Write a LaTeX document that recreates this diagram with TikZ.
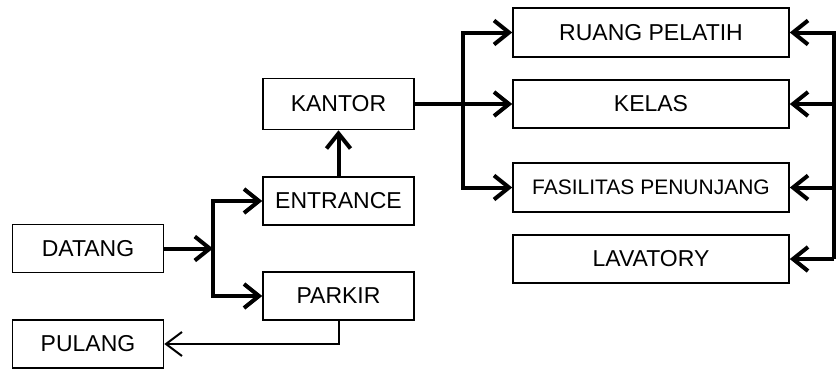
\documentclass[tikz,border=0pt]{standalone}
\usepackage{fontspec}
\setmainfont{Liberation Sans}
\usepackage{tikz}
\usetikzlibrary{arrows.meta,positioning}
\tikzset{
  box/.style={draw, line width=1.6pt, inner sep=0pt, minimum width=151pt, minimum height=48pt, font=\fontsize{23}{27}\selectfont, fill=white},
  wbox/.style={box, minimum width=276pt},
  wire/.style={line width=4pt, line cap=butt, line join=miter},
  pre/.style={wire, -{Straight Barb[length=15pt, width=24pt]}},
  tpre/.style={line width=2pt, -{Straight Barb[length=16pt, width=24pt]}},
}
\begin{document}
\begin{tikzpicture}[x=1pt,y=-1pt]
\useasboundingbox (0,0) rectangle (838,370);
% left column
\node[box] (datang) at (88,248.5) {DATANG};
\node[box] (pulang) at (88,344) {PULANG};
% middle column
\node[box, minimum height=51pt] (kantor) at (338.5,104) {KANTOR};
\node[box] (entrance) at (338.5,201) {ENTRANCE};
\node[box] (parkir) at (338.5,296) {PARKIR};
% rooms
\node[wbox, minimum height=49pt] (ruang) at (651,32.5) {RUANG PELATIH};
\node[wbox] (kelas) at (651,104) {KELAS};
\node[wbox, minimum height=49pt, font=\fontsize{21}{25}\selectfont] (fasil) at (651,187.5) {FASILITAS PENUNJANG};
\node[wbox] (lavatory) at (651,259) {LAVATORY};
% junctions
\coordinate (jd) at (213,248.5);
\coordinate (jk) at (463,104);
\coordinate (jr) at (834,259);
% arrival
\draw[pre] (datang) -- (jd);
\draw[pre] (jd) |- (entrance);
\draw[pre] (jd) |- (parkir);
\draw[pre] (entrance) -- (kantor);
% office to rooms
\draw[pre] (kantor) -- (kelas);
\draw[pre] (jk) |- (ruang);
\draw[pre] (jk) |- (fasil);
% back along the right side
\draw[pre] (jr) |- (ruang);
\draw[pre] (kelas -| jr) -- (kelas);
\draw[pre] (fasil -| jr) -- (fasil);
\draw[pre] (jr) -- (lavatory);
% going home
\draw[tpre] (parkir) |- (pulang);
\end{tikzpicture}
\end{document}
